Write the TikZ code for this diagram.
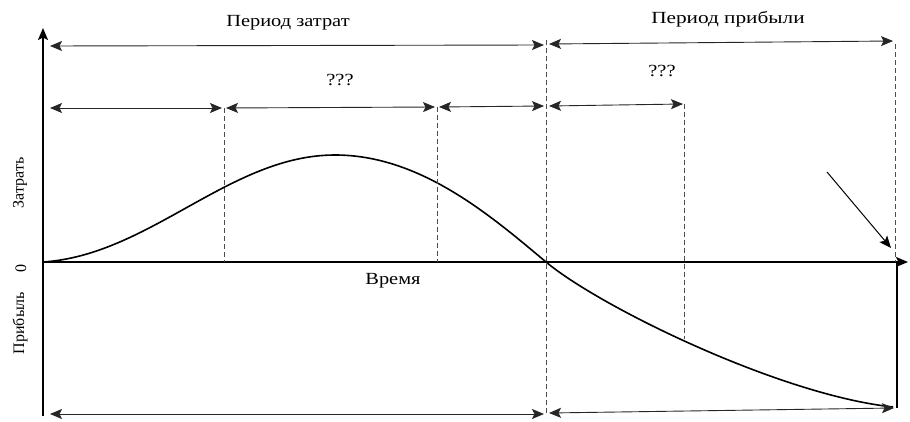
\documentclass[tikz,border=0pt]{standalone}
\usepackage{graphicx}
\usepackage{fontspec}
\setmainfont{Liberation Serif}
\usetikzlibrary{arrows.meta}
\begin{document}
\begin{tikzpicture}[x=1pt,y=-1pt,
  dim/.style={line width=0.9pt, draw=black!85},
  tipe/.style={-{Stealth[length=12pt,width=10pt,inset=2.5pt]}},
  tips/.style={{Stealth[length=12pt,width=10pt,inset=2.5pt]}-{Stealth[length=12pt,width=10pt,inset=2.5pt]}},
  guide/.style={dash pattern=on 5pt off 3pt, line width=0.8pt, draw=black!70},
  axis/.style={line width=1.7pt, draw=black},
  curve/.style={line width=1.6pt, draw=black},
  lbl/.style={font=\fontsize{17}{19}\selectfont, inner sep=0pt},
  side/.style={font=\fontsize{16}{18}\selectfont, rotate=90, inner sep=0pt}]

\useasboundingbox (0,0) rectangle (910,422);

% axes
\coordinate (O) at (43,262);
\coordinate (Ytop) at (43,28);
\coordinate (Ybot) at (43,416);
\coordinate (Xend) at (908,262);
\draw[axis] (Ybot) -- (O);
\draw[axis, tipe] (O) -- (Ytop);
\draw[axis, tipe] (O) -- (Xend);

% curve
\coordinate (peak) at (335,155);
\coordinate (cross) at (546,262);
\coordinate (cend) at (893,407);
\draw[curve] (O) .. controls (150,255) and (230,155) .. (peak)
  .. controls (420,155) and (490,215) .. (cross)
  .. controls (600,307) and (780,395) .. (cend);

% right vertical solid
\coordinate (Rtop) at (897,262);
\coordinate (Rbot) at (897,408);
\draw[axis] (Rtop) -- (Rbot);

% dashed guides
\coordinate (g1t) at (224,108); \coordinate (g1b) at (224,262);
\coordinate (g2t) at (437,107); \coordinate (g2b) at (437,262);
\coordinate (g3t) at (546,40);  \coordinate (g3b) at (546,414);
\coordinate (g4t) at (684,104); \coordinate (g4b) at (684,339);
\coordinate (g5t) at (895,44);  \coordinate (g5b) at (895,262);
\draw[guide] (g1t) -- (g1b);
\draw[guide] (g2t) -- (g2b);
\draw[guide] (g3t) -- (g3b);
\draw[guide] (g4t) -- (g4b);
\draw[guide] (g5t) -- (g5b);

% row 1
\coordinate (r1a) at (50,46);  \coordinate (r1b) at (544,45);
\coordinate (r1c) at (549,44); \coordinate (r1d) at (893,41);
\draw[dim, tips] (r1a) -- (r1b);
\draw[dim, tips] (r1c) -- (r1d);

% row 2
\coordinate (r2a) at (50,108);  \coordinate (r2b) at (222,108);
\coordinate (r2c) at (226,108); \coordinate (r2d) at (435,107);
\coordinate (r2e) at (439,107); \coordinate (r2f) at (544,106);
\coordinate (r2g) at (549,106); \coordinate (r2h) at (683,104);
\draw[dim, tips] (r2a) -- (r2b);
\draw[dim, tips] (r2c) -- (r2d);
\draw[dim, tips] (r2e) -- (r2f);
\draw[dim, tips] (r2g) -- (r2h);

% bottom row
\coordinate (r3a) at (50,414);  \coordinate (r3b) at (544,414);
\coordinate (r3c) at (549,413); \coordinate (r3d) at (894,408);
\draw[dim, tips] (r3a) -- (r3b);
\draw[dim, tips] (r3c) -- (r3d);

% diagonal pointer
\coordinate (d1) at (827,172); \coordinate (d2) at (891,248);
\draw[line width=1pt, tipe] (d1) -- (d2);

% labels
\node[lbl] (tz) at (288,23) {\scalebox{1.2}[1]{Период затрат}};
\node[lbl] (tp) at (728,19) {\scalebox{1.25}[1]{Период прибыли}};
\node[lbl] (q1) at (340,80) {\scalebox{1.2}[1]{???}};
\node[lbl] (q2) at (662,71) {\scalebox{1.2}[1]{???}};
\node[lbl] (tv) at (393,281) {\scalebox{1.2}[1]{Время}};
\node[side] (sz) at (20,183) {Затрать};
\node[side] (s0) at (21,268) {0};
\node[side] (sp) at (20,323) {Прибыль};
\end{tikzpicture}
\end{document}
